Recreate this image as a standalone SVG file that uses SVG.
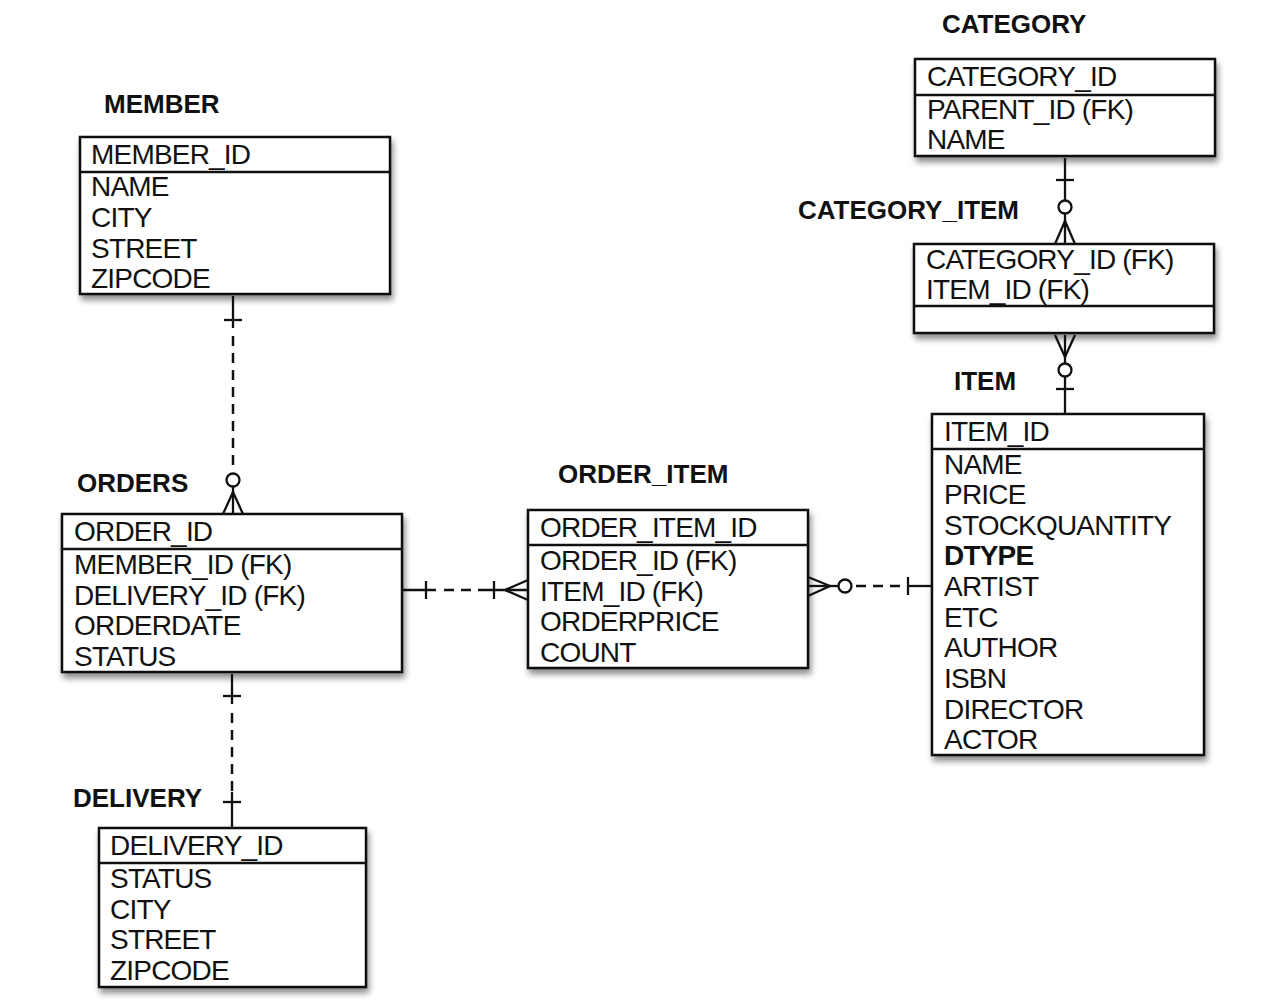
<svg xmlns="http://www.w3.org/2000/svg" width="1286" height="1006" viewBox="0 0 1286 1006">
<defs>
<filter id="sh" x="-10%" y="-10%" width="125%" height="130%">
<feGaussianBlur in="SourceAlpha" stdDeviation="3"/>
<feOffset dx="2" dy="5" result="b"/>
<feComponentTransfer><feFuncA type="linear" slope="0.45"/></feComponentTransfer>
<feMerge><feMergeNode/><feMergeNode in="SourceGraphic"/></feMerge>
</filter>
</defs>
<style>
.box{fill:#fff;stroke:#111;stroke-width:2.5}
.ln{stroke:#111;stroke-width:2.5;fill:none}
.t{font-family:"Liberation Sans",Arial,sans-serif;font-size:28px;fill:#111;letter-spacing:-0.8px}
.b{font-weight:bold}
.lbl{font-family:"Liberation Sans",Arial,sans-serif;font-size:26px;font-weight:bold;fill:#111}
.c{stroke:#111;stroke-width:2.3;fill:none}
.d{stroke:#111;stroke-width:2.5;fill:none;stroke-dasharray:10 7}
.o{stroke:#111;stroke-width:2.3;fill:#fff}
</style>
<rect width="1286" height="1006" fill="#fff"/>

<g id="member">
<text class="lbl" x="104" y="113">MEMBER</text>
<rect class="box" x="80" y="137" width="310" height="157" filter="url(#sh)"/>
<line class="ln" x1="80" y1="172" x2="390" y2="172"/>
<text class="t" x="91" y="164">MEMBER_ID</text>
<text class="t" x="91" y="196">NAME</text>
<text class="t" x="91" y="227">CITY</text>
<text class="t" x="91" y="258">STREET</text>
<text class="t" x="91" y="288">ZIPCODE</text>
</g>

<g id="orders">
<text class="lbl" x="77" y="492">ORDERS</text>
<rect class="box" x="62" y="514" width="340" height="158" filter="url(#sh)"/>
<line class="ln" x1="62" y1="549" x2="402" y2="549"/>
<text class="t" x="74" y="541">ORDER_ID</text>
<text class="t" x="74" y="574">MEMBER_ID (FK)</text>
<text class="t" x="74" y="605">DELIVERY_ID (FK)</text>
<text class="t" x="74" y="635">ORDERDATE</text>
<text class="t" x="74" y="666">STATUS</text>
</g>

<g id="delivery">
<text class="lbl" x="73" y="807">DELIVERY</text>
<rect class="box" x="99" y="828" width="267" height="159" filter="url(#sh)"/>
<line class="ln" x1="99" y1="863" x2="366" y2="863"/>
<text class="t" x="110" y="855">DELIVERY_ID</text>
<text class="t" x="110" y="888">STATUS</text>
<text class="t" x="110" y="919">CITY</text>
<text class="t" x="110" y="949">STREET</text>
<text class="t" x="110" y="980">ZIPCODE</text>
</g>

<g id="order_item">
<text class="lbl" x="558" y="483">ORDER_ITEM</text>
<rect class="box" x="528" y="510" width="280" height="158" filter="url(#sh)"/>
<line class="ln" x1="528" y1="545" x2="808" y2="545"/>
<text class="t" x="540" y="537">ORDER_ITEM_ID</text>
<text class="t" x="540" y="570">ORDER_ID (FK)</text>
<text class="t" x="540" y="601">ITEM_ID (FK)</text>
<text class="t" x="540" y="631">ORDERPRICE</text>
<text class="t" x="540" y="662">COUNT</text>
</g>

<g id="item">
<text class="lbl" x="954" y="390">ITEM</text>
<rect class="box" x="932" y="414" width="272" height="341" filter="url(#sh)"/>
<line class="ln" x1="932" y1="449" x2="1204" y2="449"/>
<text class="t" x="944" y="441">ITEM_ID</text>
<text class="t" x="944" y="474">NAME</text>
<text class="t" x="944" y="504">PRICE</text>
<text class="t" x="944" y="535">STOCKQUANTITY</text>
<text class="t b" x="944" y="565">DTYPE</text>
<text class="t" x="944" y="596">ARTIST</text>
<text class="t" x="944" y="627">ETC</text>
<text class="t" x="944" y="657">AUTHOR</text>
<text class="t" x="944" y="688">ISBN</text>
<text class="t" x="944" y="719">DIRECTOR</text>
<text class="t" x="944" y="749">ACTOR</text>
</g>

<g id="category">
<text class="lbl" x="942" y="33">CATEGORY</text>
<rect class="box" x="915" y="59" width="300" height="97" filter="url(#sh)"/>
<line class="ln" x1="915" y1="95" x2="1215" y2="95"/>
<text class="t" x="927" y="86">CATEGORY_ID</text>
<text class="t" x="927" y="119">PARENT_ID (FK)</text>
<text class="t" x="927" y="149">NAME</text>
</g>

<g id="category_item">
<text class="lbl" x="798" y="219">CATEGORY_ITEM</text>
<rect class="box" x="914" y="244" width="300" height="89" filter="url(#sh)"/>
<line class="ln" x1="914" y1="306" x2="1214" y2="306"/>
<text class="t" x="926" y="269">CATEGORY_ID (FK)</text>
<text class="t" x="926" y="299">ITEM_ID (FK)</text>
</g>

<g id="connectors">
<!-- MEMBER - ORDERS -->
<line class="c" x1="233" y1="296" x2="233" y2="328"/>
<line class="c" x1="224" y1="320" x2="242" y2="320"/>
<line class="d" x1="233" y1="336" x2="233" y2="470"/>
<circle class="o" cx="233" cy="480" r="6.5"/>
<line class="c" x1="233" y1="487" x2="233" y2="514"/>
<polyline class="c" points="223,514 233,492 243,514"/>
<!-- ORDERS - DELIVERY -->
<line class="c" x1="232" y1="674" x2="232" y2="704"/>
<line class="c" x1="223" y1="696" x2="241" y2="696"/>
<line class="d" x1="232" y1="713" x2="232" y2="792"/>
<line class="c" x1="232" y1="792" x2="232" y2="828"/>
<line class="c" x1="223" y1="802" x2="241" y2="802"/>
<!-- ORDERS - ORDER_ITEM -->
<line class="c" x1="402" y1="590" x2="436" y2="590"/>
<line class="c" x1="426" y1="581" x2="426" y2="599"/>
<line class="d" x1="444" y1="590" x2="484" y2="590"/>
<line class="c" x1="484" y1="590" x2="528" y2="590"/>
<line class="c" x1="494" y1="581" x2="494" y2="599"/>
<polyline class="c" points="528,580 505,590 528,600"/>
<!-- ORDER_ITEM - ITEM -->
<line class="c" x1="808" y1="586" x2="838" y2="586"/>
<polyline class="c" points="808,577 830,586 808,596"/>
<circle class="o" cx="845" cy="586" r="6.5"/>
<line class="d" x1="856" y1="586" x2="900" y2="586"/>
<line class="c" x1="908" y1="586" x2="932" y2="586"/>
<line class="c" x1="908" y1="577" x2="908" y2="595"/>
<!-- CATEGORY - CATEGORY_ITEM -->
<line class="c" x1="1065" y1="158" x2="1065" y2="200"/>
<line class="c" x1="1056" y1="180" x2="1074" y2="180"/>
<circle class="o" cx="1065" cy="207" r="6.5"/>
<line class="c" x1="1065" y1="214" x2="1065" y2="244"/>
<polyline class="c" points="1055,244 1065,221 1075,244"/>
<!-- CATEGORY_ITEM - ITEM -->
<line class="c" x1="1065" y1="335" x2="1065" y2="363"/>
<polyline class="c" points="1055,335 1065,357 1075,335"/>
<circle class="o" cx="1065" cy="370" r="6.5"/>
<line class="c" x1="1065" y1="377" x2="1065" y2="414"/>
<line class="c" x1="1056" y1="389" x2="1074" y2="389"/>
</g>
</svg>
